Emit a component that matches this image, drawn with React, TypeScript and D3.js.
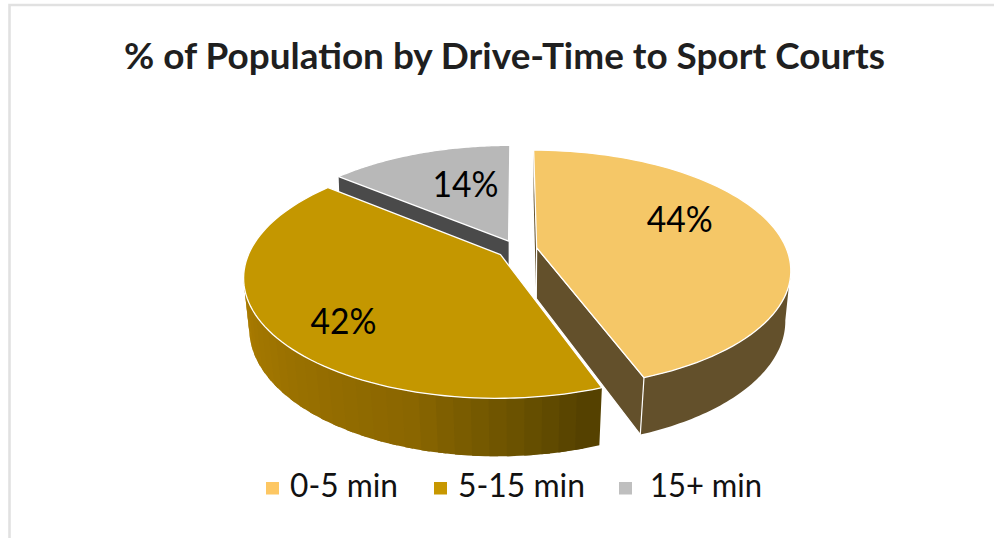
import * as d3 from 'd3';

const categories = ['0-5 min', '5-15 min', '15+ min'];
const shares = [44.4, 41.6, 14];
const title = '% of Population by Drive-Time to Sport Courts';

const width = 994;
const height = 538;
const font = 'Lato, "Open Sans", sans-serif';

const topColors = ['#f5c767', '#c49700', '#b8b8b8'];
const legendColors = ['#fdc763', '#c79700', '#bfbfbf'];
const wallColors = ['#63502b', '#8d6900', '#4a4a4a'];
const legendX = [266, 434, 619];
const legendTextX = [290, 458, 650];
const legendTextW = [108, 127, 112];
// label baseline position relative to the slice apex
const labelOffset = [
  [143, -16],
  [-157, 79],
  [-43, -44],
];

const view = { cx: 517, cy: 249.3, rx: 250, ry: 115.6, persp: 0.18, depth: 51, explode: 0.08 };

// pie plane -> screen. z=0 is the top face, z=1 the bottom one
const project = (x: number, v: number, z = 0): [number, number] => {
  const s = 1 / (1 + view.persp * v);
  return [
    view.cx + x * view.rx * s * (1 - (0.018 - 0.012 * v) * z),
    view.cy - v * view.ry * s * (1 + 0.047 * z) + view.depth * z,
  ];
};

const slices = d3.pie<number>().sort(null)(shares);
const lineGen = d3.line();

const offsetOf = (s: d3.PieArcDatum<number>) => {
  const mid = (s.startAngle + s.endAngle) / 2;
  return [view.explode * Math.sin(mid), view.explode * Math.cos(mid)];
};
const rimPoint = (s: d3.PieArcDatum<number>, a: number, z = 0) => {
  const [ox, oy] = offsetOf(s);
  return project(ox + Math.sin(a), oy + Math.cos(a), z);
};
const apex = (s: d3.PieArcDatum<number>, z = 0) => {
  const [ox, oy] = offsetOf(s);
  return project(ox, oy, z);
};
const anglesBetween = (a0: number, a1: number, n = 80) =>
  d3.range(n + 1).map((i) => a0 + ((a1 - a0) * i) / n);

const topPath = (s: d3.PieArcDatum<number>) =>
  lineGen([apex(s), ...anglesBetween(s.startAngle, s.endAngle).map((a) => rimPoint(s, a))]) + 'Z';

const rimPath = (s: d3.PieArcDatum<number>, a0: number, a1: number, n = 60) => {
  const angles = anglesBetween(a0, a1, n);
  return (
    lineGen([
      ...angles.map((a) => rimPoint(s, a)),
      ...angles.slice().reverse().map((a) => rimPoint(s, a, 1)),
    ]) + 'Z'
  );
};

const edgeWall = (s: d3.PieArcDatum<number>, a: number) =>
  lineGen([apex(s), rimPoint(s, a), rimPoint(s, a, 1), apex(s, 1)]) + 'Z';

const rad = (deg: number) => (deg * Math.PI) / 180;

const goldShade = d3
  .scaleLinear<string>()
  .domain([rad(158), rad(175), rad(195), rad(260)])
  .range(['#4f3d00', '#6b5200', '#8a6600', '#ad7e00'])
  .interpolate(d3.interpolateRgb);

export default function App() {
  const [yellow, gold, grey] = slices;
  // rim stops where the outline turns, about 10 degrees past the side of the ellipse
  const yellowStart = rad(100);
  const goldEnd = rad(260);
  const step = (goldEnd - gold.startAngle) / 30;
  // left to right, each strip runs under the next one so no seams show
  const strips = d3.range(30).map((i) => [
    goldEnd - (i + 1) * step,
    Math.min(goldEnd, goldEnd - i * step + step * 0.5),
  ]);

  return (
    <svg
      width={width}
      height={height}
      viewBox={`0 0 ${width} ${height}`}
      style={{ position: 'absolute', left: 0, top: 0, background: '#fff' }}
    >
      <path d="M994,5H9.5V538" fill="none" stroke="#e1e1e1" strokeWidth={2.6} />

      <text
        x={504.5}
        y={69}
        textAnchor="middle"
        fontFamily={font}
        fontWeight={700}
        fontSize={36}
        fill="#1f1f1f"
        textLength={761}
        lengthAdjust="spacingAndGlyphs"
      >
        {title}
      </text>

      {/* yellow slice walls */}
      <path d={edgeWall(yellow, yellow.startAngle)} fill={wallColors[0]} />
      <path d={rimPath(yellow, yellowStart, yellow.endAngle)} fill={wallColors[0]} />
      <path d={edgeWall(yellow, yellow.endAngle)} fill={wallColors[0]} stroke="#fff" strokeWidth={1.2} strokeLinejoin="round" />
      <path d={topPath(yellow)} fill={topColors[0]} stroke="#fff" strokeWidth={1.3} strokeLinejoin="round" />

      {/* grey slice */}
      <path d={edgeWall(grey, grey.startAngle)} fill={wallColors[2]} />
      <path d={topPath(grey)} fill={topColors[2]} stroke="#fff" strokeWidth={1.3} strokeLinejoin="round" />

      {/* gold slice, rim shaded in strips */}
      {strips.map(([a0, a1], i) => (
        <path key={i} d={rimPath(gold, a0, a1, 4)} fill={goldShade(a0 + step / 2)} />
      ))}
      <path d={topPath(gold)} fill={topColors[1]} stroke="#fff" strokeWidth={1.3} strokeLinejoin="round" />

      {slices.map((s, i) => {
        const [ax, ay] = apex(s);
        return (
          <text
            key={i}
            x={ax + labelOffset[i][0]}
            y={ay + labelOffset[i][1]}
            textAnchor="middle"
            fontFamily={font}
            fontSize={37}
            fill="#000"
            textLength={66}
            lengthAdjust="spacingAndGlyphs"
          >
            {`${Math.round(s.data)}%`}
          </text>
        );
      })}

      {categories.map((c, i) => (
        <g key={c}>
          <rect x={legendX[i]} y={482} width={13} height={12.5} fill={legendColors[i]} />
          <text
            x={legendTextX[i]}
            y={497}
            fontFamily={font}
            fontSize={32}
            fill="#111"
            textLength={legendTextW[i]}
            lengthAdjust="spacingAndGlyphs"
          >
            {c}
          </text>
        </g>
      ))}
    </svg>
  );
}
